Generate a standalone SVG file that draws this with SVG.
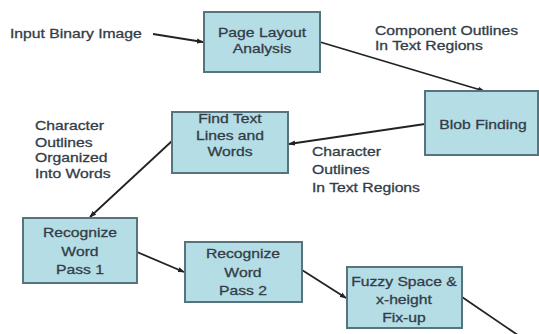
<svg xmlns="http://www.w3.org/2000/svg" width="539" height="334" viewBox="0 0 539 334">
  <style>
    .box { fill: #b5dde6; stroke: #55747d; stroke-width: 2; }
    .lbl { font-family: "Liberation Sans", Arial, sans-serif; font-size: 13px; fill: #333d47;
           stroke: #333d47; stroke-width: 0.3;
           transform-box: fill-box; transform: scaleX(1.21); }
    .mid { text-anchor: middle; transform-origin: center; }
    .left { text-anchor: start; transform-origin: left center; }
    .edge { stroke: #222; stroke-width: 1.8; fill: none; marker-end: url(#arrow); }
  </style>
  <defs>
    <marker id="arrow" viewBox="0 0 8 6" refX="7" refY="3" markerWidth="7" markerHeight="6" markerUnits="userSpaceOnUse" orient="auto">
      <path d="M0,0 L8,3 L0,6 z" fill="#222"/>
    </marker>
  </defs>

  <rect width="539" height="334" fill="#ffffff"/>

  <!-- connectors -->
  <g id="connectors">
    <line class="edge" x1="153" y1="34" x2="203" y2="42"/>
    <line class="edge" x1="320" y1="42" x2="484" y2="91"/>
    <line class="edge" x1="425" y1="124" x2="289" y2="144"/>
    <line class="edge" x1="172" y1="141" x2="90" y2="217"/>
    <line class="edge" x1="137" y1="252" x2="184" y2="272"/>
    <line class="edge" x1="302" y1="270" x2="346" y2="298"/>
    <line class="edge" x1="462" y1="297" x2="528" y2="342"/>
  </g>

  <!-- edge labels -->
  <g id="labels">
    <text class="lbl left" x="10" y="38">Input Binary Image</text>
    <text class="lbl left" x="375" y="35">Component Outlines</text>
    <text class="lbl left" x="375" y="50">In Text Regions</text>
    <text class="lbl left" x="312" y="156">Character</text>
    <text class="lbl left" x="312" y="174">Outlines</text>
    <text class="lbl left" x="312" y="192">In Text Regions</text>
    <text class="lbl left" x="35" y="130">Character</text>
    <text class="lbl left" x="35" y="147">Outlines</text>
    <text class="lbl left" x="35" y="162">Organized</text>
    <text class="lbl left" x="35" y="178">Into Words</text>
  </g>

  <g id="page-layout">
    <rect class="box" x="204" y="12" width="116" height="60"/>
    <text class="lbl mid" x="262" y="37">Page Layout</text>
    <text class="lbl mid" x="262" y="53">Analysis</text>
  </g>

  <g id="blob-finding">
    <rect class="box" x="425" y="91" width="113" height="64"/>
    <text class="lbl mid" x="483" y="129">Blob Finding</text>
  </g>

  <g id="find-lines">
    <rect class="box" x="172" y="112" width="116" height="61"/>
    <text class="lbl mid" x="230" y="123">Find Text</text>
    <text class="lbl mid" x="230" y="140">Lines and</text>
    <text class="lbl mid" x="230" y="156">Words</text>
  </g>

  <g id="recognize-1">
    <rect class="box" x="23" y="218" width="114" height="65"/>
    <text class="lbl mid" x="80" y="237">Recognize</text>
    <text class="lbl mid" x="80" y="256">Word</text>
    <text class="lbl mid" x="80" y="274">Pass 1</text>
  </g>

  <g id="recognize-2">
    <rect class="box" x="185" y="242" width="117" height="60"/>
    <text class="lbl mid" x="243" y="258">Recognize</text>
    <text class="lbl mid" x="243" y="277">Word</text>
    <text class="lbl mid" x="243" y="295">Pass 2</text>
  </g>

  <g id="fuzzy-space">
    <rect class="box" x="347" y="267" width="115" height="61"/>
    <text class="lbl mid" x="404" y="286">Fuzzy Space &amp;</text>
    <text class="lbl mid" x="404" y="304">x-height</text>
    <text class="lbl mid" x="404" y="322">Fix-up</text>
  </g>
</svg>
